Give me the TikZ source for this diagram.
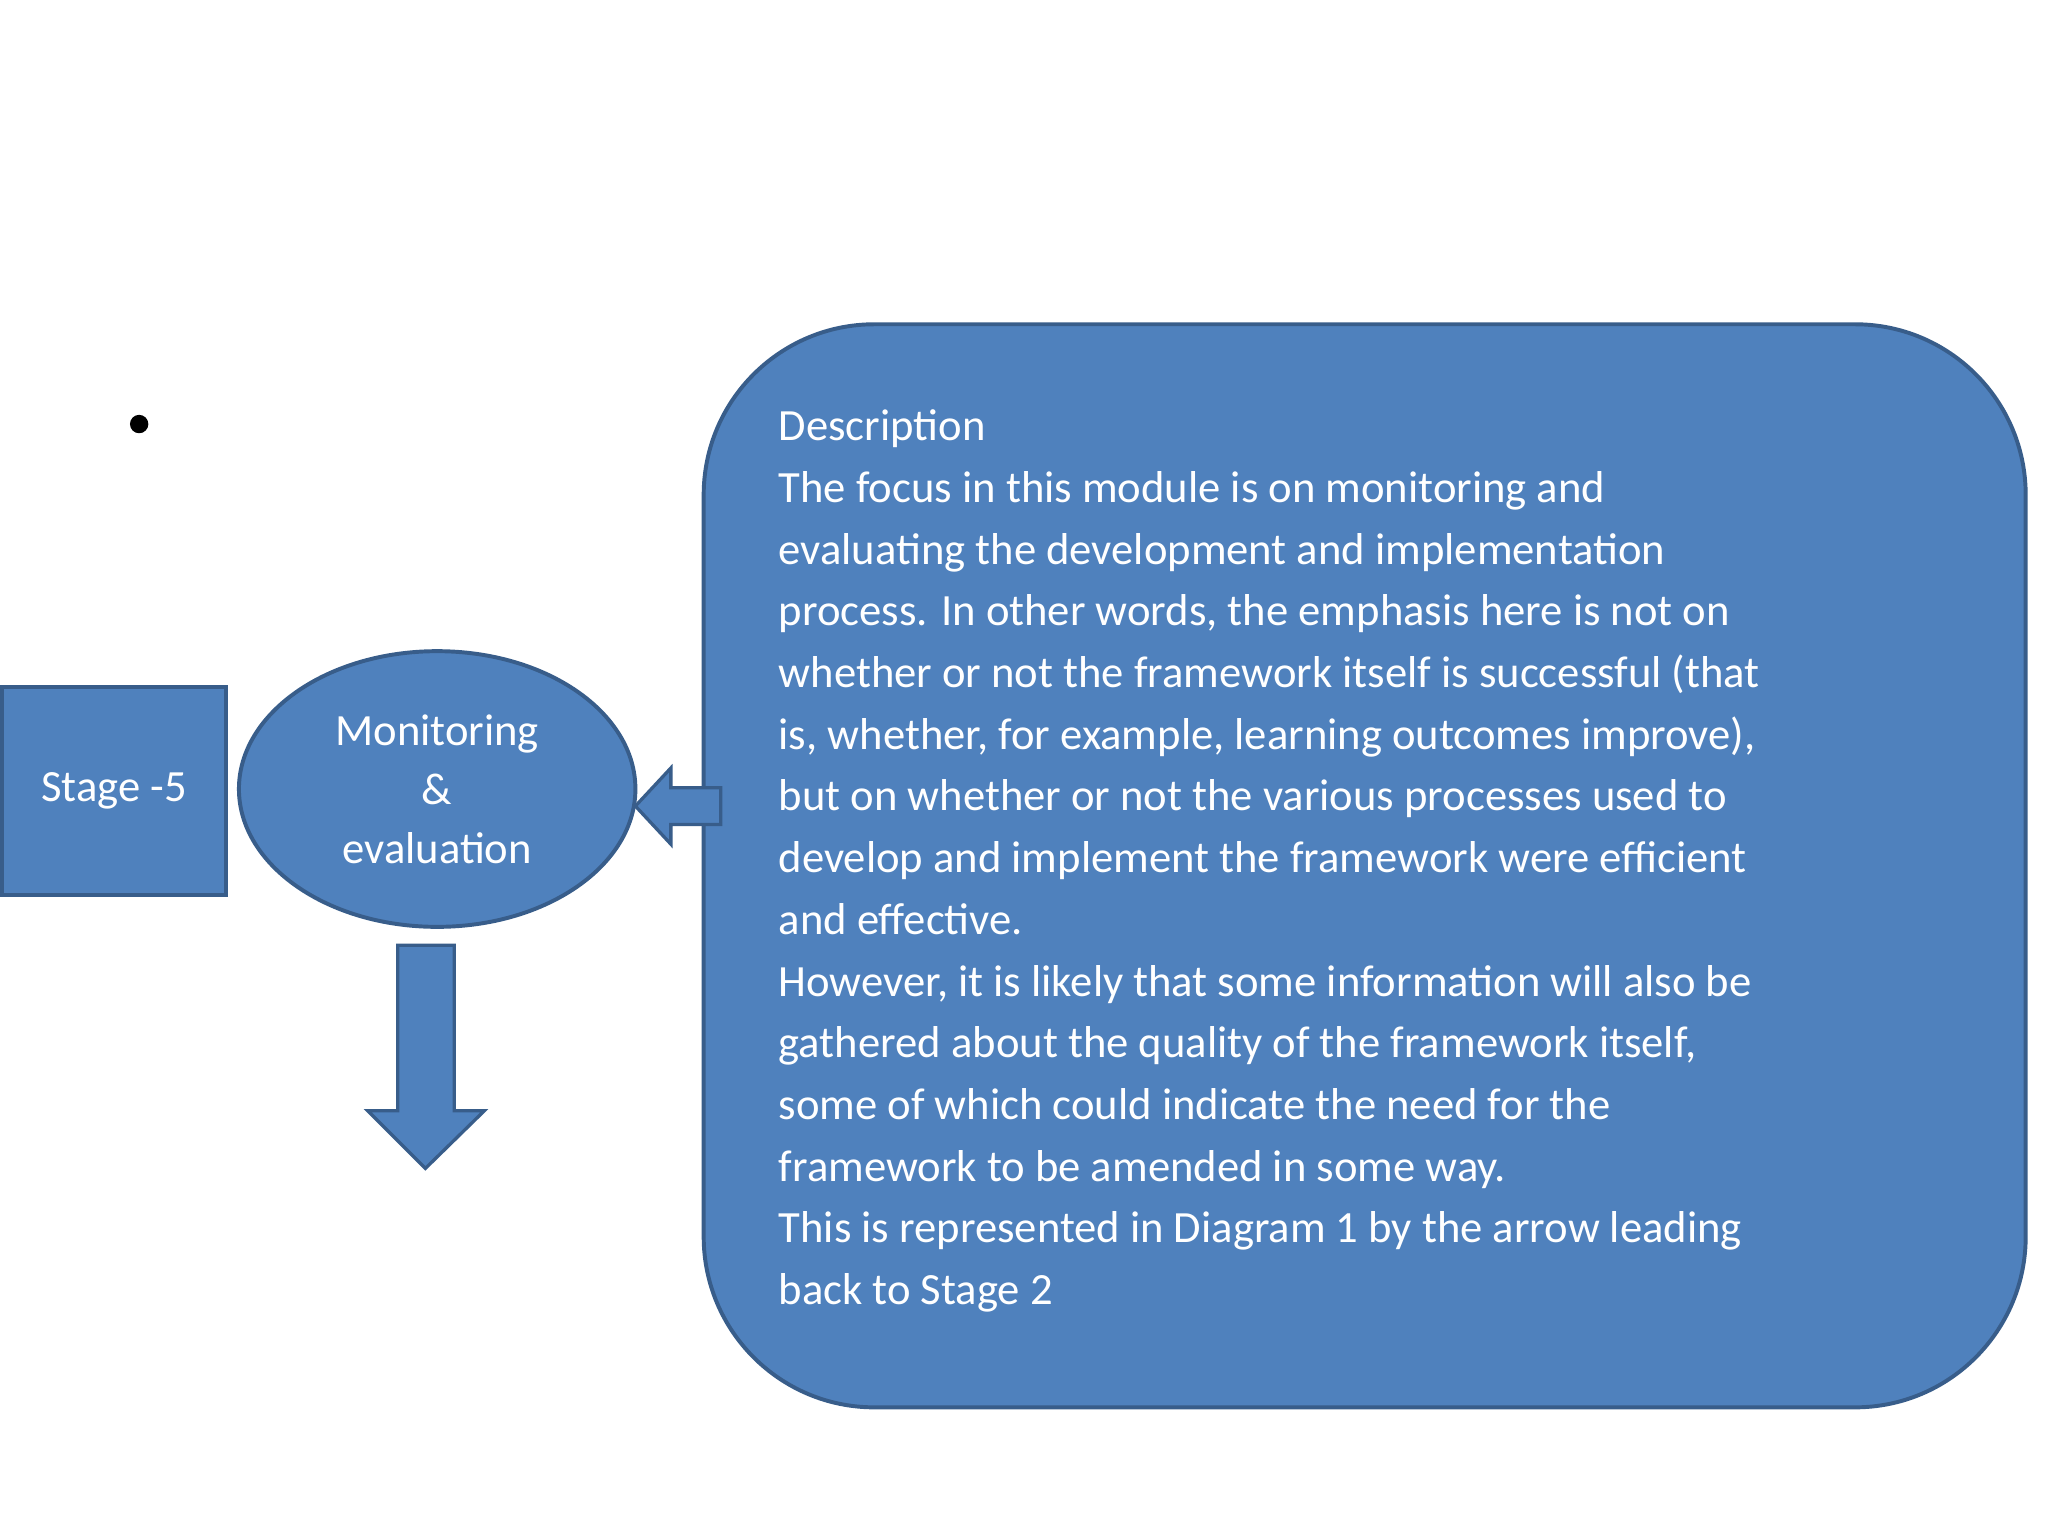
\documentclass[tikz,border=0pt]{standalone}
\usepackage{fontspec}
\usetikzlibrary{shapes.geometric}
\setmainfont{Carlito}
\definecolor{bfill}{HTML}{4F81BD}
\definecolor{bline}{HTML}{385D8A}
\begin{document}
\begin{tikzpicture}[x=1pt,y=-1pt,
  shp/.style={fill=bfill,draw=bline,line width=3pt},
  txt/.style={text=white,font=\fontsize{34}{47}\selectfont}]
\useasboundingbox[fill=white] (0,0) rectangle (1560,1170);
\fill (106,323) circle (7);
\node[shp,txt,minimum width=171,minimum height=158,anchor=north west,inner sep=0] (stage) at (0,522) {Stage -5};
\node[shp,txt,ellipse,minimum width=302,minimum height=210,inner sep=0,align=center] (mon) at (333,601) {Monitoring\\[-2pt]\&\\[-2pt]evaluation};
\draw[shp,rounded corners=130] (536,247) rectangle (1543,1072);
\node[txt,anchor=north west,align=left,inner sep=0] (desc) at (593,312) {Description\\
The focus in this module is on monitoring and\\
evaluating the development and implementation\\
process. In other words, the emphasis here is not on\\
whether or not the framework itself is successful (that\\
is, whether, for example, learning outcomes improve),\\
but on whether or not the various processes used to\\
develop and implement the framework were efficient\\
and effective.\\
However, it is likely that some information will also be\\
gathered about the quality of the framework itself,\\
some of which could indicate the need for the\\
framework to be amended in some way.\\
This is represented in Diagram 1 by the arrow leading\\
back to Stage 2};
\draw[shp,line width=2.5pt,line join=miter] (549,600) -- (511,600) -- (511,585) -- (484,614) -- (511,643) -- (511,628) -- (549,628) -- cycle;
\draw[shp,line width=2.5pt,line join=miter] (303,720) -- (346,720) -- (346,846) -- (369,846) -- (324,890) -- (280,846) -- (303,846) -- cycle;
\end{tikzpicture}
\end{document}
